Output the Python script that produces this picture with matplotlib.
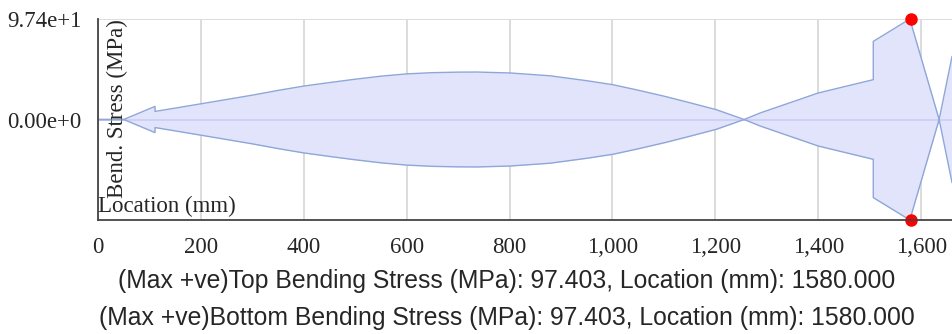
import matplotlib
matplotlib.use("Agg")
import matplotlib.pyplot as plt
from matplotlib.ticker import FuncFormatter

# ---- data ----
location_mm = [0, 50, 110.8, 110.8, 200, 300, 350, 400, 441, 496, 550, 600, 650, 700,
               736, 801, 878, 950, 1001, 1050, 1102, 1150, 1202, 1256, 1287,
               1400, 1507, 1507, 1578, 1635, 1660]
top_stress = [0, 0, -12.7, -7.8, -15.2, -23.6, -28.2, -32.4, -35.2, -38.8, -42.0, -44.2,
              -45.4, -45.9, -46.0, -45.1, -42.4, -37.6, -33.7, -28.4, -22.4,
              -16.3, -9.5, 0, 6.3, 25.7, 38.6, 75.7, 97.403, 0, -61.0]
bottom_stress = [-v for v in top_stress]

max_loc = 1580.0
max_top = 97.403
max_bottom = -97.403
y_limit = 97.403
x_ticks = [0, 200, 400, 600, 800, 1000, 1200, 1400, 1600]
y_ticks = [0, 97.403]
y_tick_labels = ["0.00e+0", "9.74e+1"]

caption1 = "(Max +ve)Top Bending Stress (MPa): 97.403, Location (mm): 1580.000"
caption2 = "(Max +ve)Bottom Bending Stress (MPa): 97.403, Location (mm): 1580.000"

W, H = 953, 334
fig = plt.figure(figsize=(W / 100, H / 100), dpi=100)
ax = fig.add_axes([98 / W, 1 - 220 / H, (952 - 98) / W, (220 - 19) / H])

serif = "Liberation Serif"
line_c = "#8ea6d8"
fill_c = "#e2e4fb"
txt_c = "#262626"

ax.fill_between(location_mm, top_stress, bottom_stress, color=fill_c, lw=0, zorder=2)
ax.axhline(0, color="#c9cef6", lw=1.2, zorder=2.5)
ax.plot(location_mm, top_stress, color=line_c, lw=1.0, zorder=3)
ax.plot(location_mm, bottom_stress, color=line_c, lw=1.0, zorder=3)
ax.plot([max_loc, max_loc], [max_top, max_bottom], "o", color="#ff0000",
        ms=8, zorder=5, clip_on=False)

ax.set_xlim(0, location_mm[-1])
ax.set_ylim(-y_limit, y_limit)
ax.set_xticks(x_ticks)
ax.xaxis.set_major_formatter(FuncFormatter(lambda v, p: f"{int(v):,}"))
ax.set_yticks(y_ticks)
ax.set_yticklabels(y_tick_labels)
ax.tick_params(axis="both", length=0, labelsize=16.5, colors=txt_c)
ax.tick_params(axis="x", pad=12)
ax.tick_params(axis="y", pad=12)
for lab in ax.get_xticklabels() + ax.get_yticklabels():
    lab.set_fontfamily(serif)

ax.grid(True, color="#dcdcdc", lw=1.4, zorder=0)
ax.set_axisbelow(True)
for s in ["top", "right"]:
    ax.spines[s].set_visible(False)
for s in ["left", "bottom"]:
    ax.spines[s].set_color("#444444")
    ax.spines[s].set_linewidth(1.3)
    ax.spines[s].set_zorder(6)

fig.text(117 / W, 1 - 19 / H, "Bend. Stress (MPa)", rotation=90, ha="center", va="top",
         fontsize=16.5, family=serif, color=txt_c)
fig.text(98 / W, 1 - 206 / H, "Location (mm)", ha="left", va="center",
         fontsize=16.5, family=serif, color=txt_c)

fig.text(507 / W, 1 - 281 / H, caption1, ha="center", va="center",
         fontsize=17.8, family="Liberation Sans", color=txt_c)
fig.text(507 / W, 1 - 318 / H, caption2, ha="center", va="center",
         fontsize=17.8, family="Liberation Sans", color=txt_c)

fig.savefig("out.png", dpi=100)
